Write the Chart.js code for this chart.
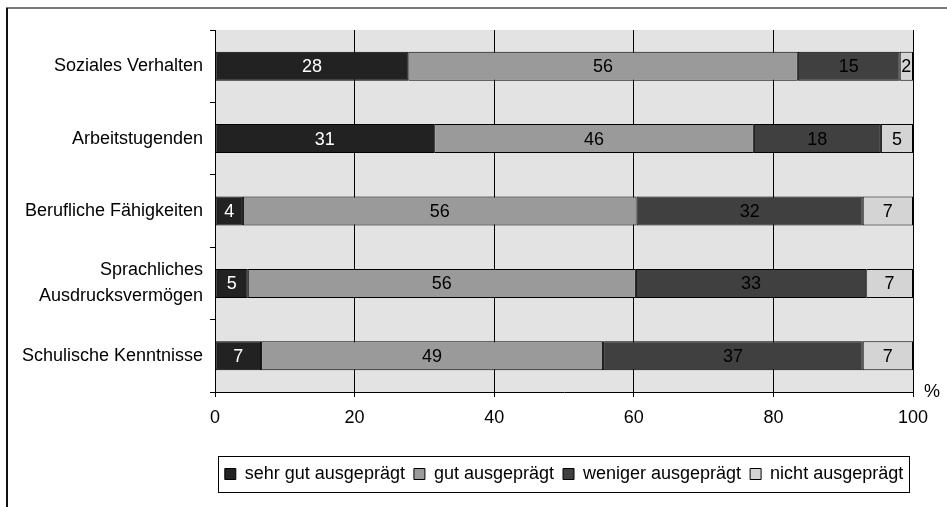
<!DOCTYPE html>
<html>
<head>
<meta charset="utf-8">
<script src="https://cdn.jsdelivr.net/npm/chart.js@4/dist/chart.umd.min.js"></script>
<style>
  html, body { margin: 0; padding: 0; background: #ffffff; }
  #wrap { width: 947px; height: 507px; }
</style>
</head>
<body>
<div id="wrap"><canvas id="c" width="947" height="507"></canvas></div>
<script>
// ---- data ----
const categories = [
  "Soziales Verhalten",
  "Arbeitstugenden",
  "Berufliche Fähigkeiten",
  ["Sprachliches", "Ausdrucksvermögen"],
  "Schulische Kenntnisse"
];
const seriesNames = ["sehr gut ausgeprägt", "gut ausgeprägt", "weniger ausgeprägt", "nicht ausgeprägt"];
// bar lengths (percent) as measured
const sehrGut   = [27.7, 31.4, 4.0, 4.7, 6.6];
const gut       = [55.8, 45.8, 56.4, 55.6, 49.0];
const weniger   = [14.6, 18.2, 32.4, 33.0, 37.2];
const nicht     = [1.9, 4.6, 7.2, 6.7, 7.2];
// printed numbers on the bars
const sehrGutLabels = [28, 31, 4, 5, 7];
const gutLabels     = [56, 46, 56, 56, 49];
const wenigerLabels = [15, 18, 32, 33, 37];
const nichtLabels   = [2, 5, 7, 7, 7];
const xTicks = [0, 20, 40, 60, 80, 100];
const xUnit = "%";

const FONT = "'Liberation Sans', Arial, sans-serif";
const fills = ["#222222", "#9a9a9a", "#404040", "#d4d4d4"];
const textColors = ["#ffffff", "#000000", "#000000", "#000000"];
const labelSets = [sehrGutLabels, gutLabels, wenigerLabels, nichtLabels];
const valueSets = [sehrGut, gut, weniger, nicht];

const framePlugin = {
  id: "frame",
  beforeDraw(chart) {
    const ctx = chart.ctx, a = chart.chartArea;
    ctx.save();
    ctx.fillStyle = "#e3e3e3";
    ctx.fillRect(a.left, a.top, a.right - a.left, a.bottom - a.top);
    // outer frame (top & left visible)
    ctx.lineWidth = 2;
    ctx.strokeStyle = "#7a7a7a";
    ctx.beginPath(); ctx.moveTo(6, 8); ctx.lineTo(947, 8); ctx.stroke();
    ctx.strokeStyle = "#111111";
    ctx.beginPath(); ctx.moveTo(7, 8); ctx.lineTo(7, 507); ctx.stroke();
    ctx.restore();
  },
  afterDraw(chart) {
    const ctx = chart.ctx, a = chart.chartArea;
    ctx.save();
    // unit label
    ctx.fillStyle = "#000";
    ctx.font = "18px " + FONT;
    ctx.textAlign = "center";
    ctx.textBaseline = "middle";
    ctx.fillText(xUnit, a.right + 19, a.bottom);
    // legend frame
    const hb = chart.legend.legendHitBoxes;
    if (hb && hb.length) {
      let l = Infinity, r = -Infinity, t = Infinity, b = -Infinity;
      hb.forEach(h => { l = Math.min(l, h.left); r = Math.max(r, h.left + h.width); t = Math.min(t, h.top); b = Math.max(b, h.top + h.height); });
      const cy = (t + b) / 2;
      ctx.strokeStyle = "#000";
      ctx.lineWidth = 1;
      ctx.strokeRect(Math.round(l - 7) + 0.5, Math.round(cy - 18) + 0.5, Math.round(r - l + 13), 36);
    }
    ctx.restore();
  },
  afterDatasetsDraw(chart) {
    const ctx = chart.ctx;
    ctx.save();
    ctx.font = "18px " + FONT;
    ctx.textAlign = "center";
    ctx.textBaseline = "middle";
    chart.data.datasets.forEach((ds, di) => {
      const meta = chart.getDatasetMeta(di);
      meta.data.forEach((el, i) => {
        const p = el.getProps(["x", "y", "base"], true);
        ctx.fillStyle = textColors[di];
        ctx.fillText(String(labelSets[di][i]), (p.x + p.base) / 2, p.y + 1);
      });
    });
    ctx.restore();
  }
};

new Chart(document.getElementById("c"), {
  type: "bar",
  data: {
    labels: categories,
    datasets: seriesNames.map((n, i) => ({
      label: n,
      data: valueSets[i],
      backgroundColor: fills[i],
      borderColor: "#000000",
      borderWidth: 1,
      borderSkipped: false,
      categoryPercentage: 0.4,
      barPercentage: 1.0
    }))
  },
  options: {
    indexAxis: "y",
    responsive: false,
    animation: false,
    devicePixelRatio: 1,
    layout: { padding: { left: 0, right: 34, top: 30, bottom: 14 } },
    scales: {
      x: {
        stacked: true,
        min: 0, max: 100,
        afterBuildTicks(scale) { scale.ticks = xTicks.map(v => ({ value: v })); },
        afterFit(scale) { scale.height = 64; },
        grid: { color: "#000000", lineWidth: 1, tickLength: 5, drawTicks: true },
        border: { display: true, color: "#000000", width: 1 },
        ticks: { color: "#000000", font: { family: FONT, size: 18 }, padding: 10, maxRotation: 0 }
      },
      y: {
        stacked: true,
        afterFit(scale) { scale.width = 215; },
        grid: { display: true, drawOnChartArea: false, drawTicks: true, tickLength: 5, color: "#000000", offset: true },
        border: { display: true, color: "#000000", width: 1 },
        ticks: { color: "#000000", font: { family: FONT, size: 18, lineHeight: 1.45 }, padding: 7 }
      }
    },
    plugins: {
      legend: {
        position: "bottom",
        fullSize: false,
        labels: {
          color: "#000000",
          font: { family: FONT, size: 18 },
          boxWidth: 11, boxHeight: 11, padding: 9
        }
      },
      tooltip: { enabled: false }
    }
  },
  plugins: [framePlugin]
});
</script>
</body>
</html>
